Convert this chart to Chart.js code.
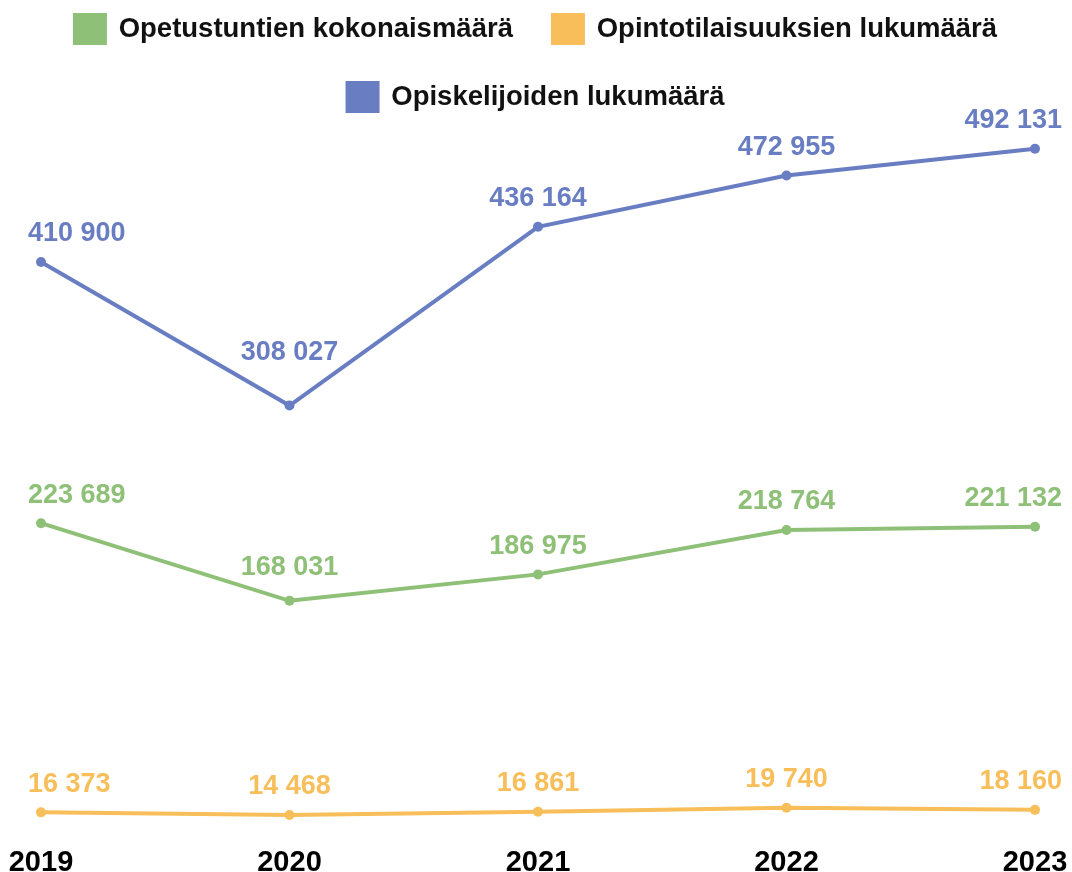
<!DOCTYPE html>
<html>
<head>
<meta charset="utf-8">
<script src="https://cdn.jsdelivr.net/npm/chart.js@4"></script>
<style>
html,body{margin:0;padding:0;background:#fff;}
#wrap{width:1072px;height:872px;}
</style>
</head>
<body>
<div id="wrap"><canvas id="c" width="1072" height="872"></canvas></div>
<script>
const years = ['2019', '2020', '2021', '2022', '2023'];
const seriesNames = ['Opetustuntien kokonaismäärä', 'Opintotilaisuuksien lukumäärä', 'Opiskelijoiden lukumäärä'];
const opetustunnit = [223689, 168031, 186975, 218764, 221132];
const opintotilaisuudet = [16373, 14468, 16861, 19740, 18160];
const opiskelijat = [410900, 308027, 436164, 472955, 492131];
const colors = ['#8EC078', '#F7BE5A', '#687DC2'];

const FONT = '"Liberation Sans", Arial, sans-serif';

function fmt(v) {
  return String(v).replace(/\B(?=(\d{3})+(?!\d))/g, ' ');
}

const labelPlugin = {
  id: 'pointLabels',
  afterDatasetsDraw(chart) {
    const ctx = chart.ctx;
    ctx.save();
    ctx.font = 'bold 27px ' + FONT;
    ctx.textAlign = 'center';
    ctx.textBaseline = 'middle';
    chart.data.datasets.forEach((ds, di) => {
      const meta = chart.getDatasetMeta(di);
      const pts = meta.data;
      pts.forEach((pt, i) => {
        const text = fmt(ds.data[i]);
        const w = ctx.measureText(text).width;
        let cx = pt.x;
        cx = Math.max(28 + w / 2, Math.min(1062 - w / 2, cx));
        const x0 = cx - w / 2, x1 = cx + w / 2;
        let bottom = pt.y - 18;
        // keep label above adjacent line segments
        [[pts[i - 1], pt], [pt, pts[i + 1]]].forEach(([a, b]) => {
          if (!a || !b) return;
          const lo = Math.max(x0, Math.min(a.x, b.x));
          const hi = Math.min(x1, Math.max(a.x, b.x));
          if (lo > hi) return;
          const yAt = (x) => a.y + (b.y - a.y) * (x - a.x) / (b.x - a.x);
          const minY = Math.min(yAt(lo), yAt(hi));
          bottom = Math.min(bottom, minY - 8);
        });
        ctx.fillStyle = ds.borderColor;
        ctx.fillText(text, cx, bottom - 10);
      });
    });
    ctx.restore();
  }
};

const datasetsSrc = [opetustunnit, opintotilaisuudet, opiskelijat];

new Chart(document.getElementById('c'), {
  type: 'line',
  data: {
    labels: years,
    datasets: datasetsSrc.map((d, i) => ({
      label: seriesNames[i],
      data: d,
      borderColor: colors[i],
      backgroundColor: colors[i],
      pointBackgroundColor: colors[i],
      pointBorderColor: colors[i],
      borderWidth: 4,
      pointRadius: 5,
      pointBorderWidth: 0,
      tension: 0,
      clip: false
    }))
  },
  options: {
    responsive: false,
    animation: false,
    devicePixelRatio: 1,
    layout: { padding: { left: 0, right: 0, top: -25, bottom: -18 } },
    plugins: {
      legend: {
        position: 'top',
        align: 'center',
        labels: {
          boxWidth: 30,
          boxHeight: 28,
          padding: 40,
          color: '#111',
          font: { family: FONT, size: 27.5, weight: 'bold' }
        }
      },
      tooltip: { enabled: false }
    },
    scales: {
      x: {
        offset: false,
        grid: { display: false, drawTicks: false },
        border: { display: false },
        afterFit(scale) {
          scale.paddingLeft = 41;
          scale.paddingRight = 37;
        },
        ticks: {
          color: '#000',
          padding: 10,
          maxRotation: 0,
          font: { family: FONT, size: 29, weight: 'bold' }
        }
      },
      y: {
        display: false,
        min: 0,
        max: 512000
      }
    }
  },
  plugins: [labelPlugin]
});
</script>
</body>
</html>
